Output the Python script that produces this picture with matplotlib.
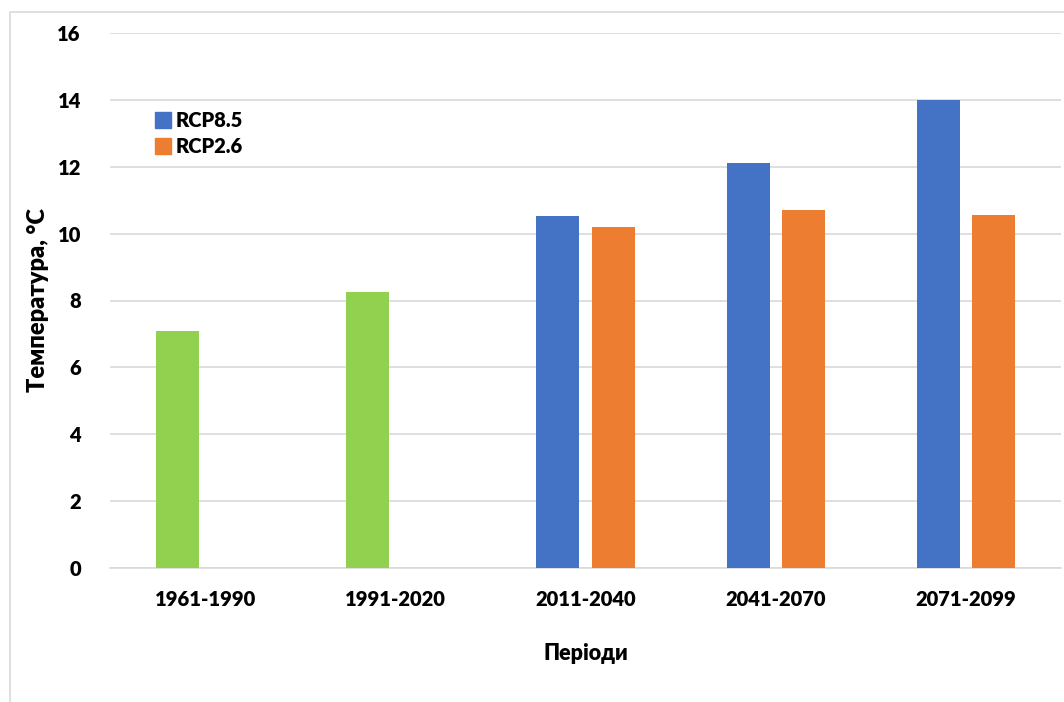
import matplotlib.pyplot as plt
import numpy as np
from matplotlib.patches import Rectangle
from matplotlib.lines import Line2D

periods = ["1961-1990", "1991-2020", "2011-2040", "2041-2070", "2071-2099"]
# first two periods are observed climate, drawn in green within the RCP8.5 slot
observed = [7.1, 8.25, np.nan, np.nan, np.nan]
rcp85 = [np.nan, np.nan, 10.52, 12.12, 14.0]
rcp26 = [np.nan, np.nan, 10.21, 10.7, 10.55]
y_ticks = [0, 2, 4, 6, 8, 10, 12, 14, 16]

BLUE = "#4472C4"
ORANGE = "#ED7D31"
GREEN = "#92D050"
GRID = "#D9D9D9"

FS = 14.5
WEIGHT = "heavy"

plt.rcParams["font.family"] = ["Lato", "DejaVu Sans"]
plt.rcParams["font.weight"] = WEIGHT

fig = plt.figure(figsize=(10.64, 7.02), dpi=100)
ax = fig.add_axes([110 / 1064, 1 - 568 / 702, 951 / 1064, 535 / 702])

# light chart-area frame, open to the right and bottom
fig.patches.append(Rectangle((10 / 1064, -0.1), 1.2, 1 - 12 / 702 + 0.1,
                             transform=fig.transFigure, fill=False,
                             edgecolor="#D9D9D9", linewidth=1.2, zorder=0))

x = np.arange(len(periods))
width = 0.226
offset = 0.145

ax.bar(x - offset, observed, width, color=GREEN, zorder=3)
ax.bar(x - offset, rcp85, width, color=BLUE, zorder=3)
ax.bar(x + offset, rcp26, width, color=ORANGE, zorder=3)

ax.set_xlim(-0.5, len(periods) - 0.5)
ax.set_ylim(0, 16)
ax.set_yticks(y_ticks)
ax.set_xticks(x)
ax.set_xticklabels(periods)
ax.tick_params(axis="both", length=0, labelsize=FS)
for lbl in ax.get_xticklabels() + ax.get_yticklabels():
    lbl.set_fontweight(WEIGHT)
ax.tick_params(axis="y", pad=21)
ax.tick_params(axis="x", pad=16)

ax.grid(axis="y", color=GRID, linewidth=1.2, zorder=0)
for side in ["top", "right", "left"]:
    ax.spines[side].set_visible(False)
ax.spines["bottom"].set_color(GRID)
ax.spines["bottom"].set_linewidth(1.2)

ax.set_ylabel("Температура, °C", fontsize=17, fontweight=WEIGHT)
ax.yaxis.set_label_coords(-0.064, 0.5)
ax.set_xlabel("Періоди", fontsize=15.5, fontweight=WEIGHT, labelpad=24)

handles = [
    Line2D([], [], marker="s", linestyle="none", markersize=11,
           markerfacecolor=BLUE, markeredgecolor=BLUE, label="RCP8.5"),
    Line2D([], [], marker="s", linestyle="none", markersize=11,
           markerfacecolor=ORANGE, markeredgecolor=ORANGE, label="RCP2.6"),
]
ax.legend(handles=handles, loc="upper left", bbox_to_anchor=(0.039, 0.87),
          frameon=False, prop={"size": FS, "weight": WEIGHT},
          handlelength=0.8, handletextpad=0.2,
          labelspacing=0.35, borderaxespad=0)

fig.savefig("out.png", dpi=100)
